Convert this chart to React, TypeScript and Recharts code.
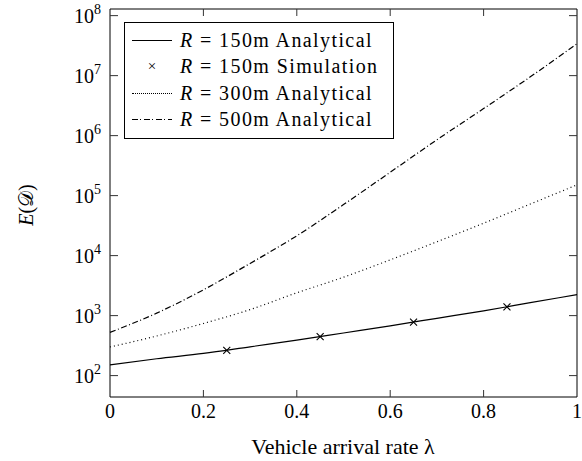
import { ComposedChart, Line, Scatter, XAxis, YAxis, Legend } from 'recharts';

// arrival rate on the x axis
const lambdaValues = [0, 0.1, 0.2, 0.3, 0.4, 0.5, 0.6, 0.7, 0.8, 0.9, 1.0];

// E(D) (log axis)
const r150Analytical = [151, 191, 234, 302, 389, 513, 676, 902, 1202, 1641, 2239];
const r300Analytical = [300, 457, 740, 1260, 2400, 4370, 8500, 17000, 34700, 72400, 151000];
const r500Analytical = [525, 1100, 2690, 7410, 21400, 70800, 245000, 851000, 2820000, 9550000, 33900000];

const simLambda = [0.25, 0.45, 0.65, 0.85];
const r150Simulation = [263, 447, 776, 1400];

const xTicks = [0, 0.2, 0.4, 0.6, 0.8, 1];
const yMajorTicks = [1e2, 1e3, 1e4, 1e5, 1e6, 1e7, 1e8];
const yDomain = [44, 1.29e8];

const legendLabels = ['150m Analytical', '150m Simulation', '300m Analytical', '500m Analytical'];

const chartData = lambdaValues.map((l, i) => ({
  lambda: l,
  r150: r150Analytical[i],
  r300: r300Analytical[i],
  r500: r500Analytical[i],
}));
const simData = simLambda.map((l, i) => ({ lambda: l, sim: r150Simulation[i] }));

// plot box size, used for the mirrored ticks and frame on top/right
const PLOT_W = 467;
const PLOT_H = 388;
const TICK_COLOR = '#333';
const FONT = 'Times New Roman';

const LeftTick = (props: any) => {
  const { x, y, payload } = props;
  const v = payload.value as number;
  return (
    <g>
      <path d={`M${x},${y}h8M${x + PLOT_W},${y}h-8`} stroke={TICK_COLOR} strokeWidth={1} fill="none" />
      <text x={x - 9} y={y + 7} textAnchor="end" fontFamily={FONT} fontSize={20} fill="#000">
        10<tspan dy={-9} fontSize={14}>{Math.round(Math.log10(v))}</tspan>
      </text>
    </g>
  );
};

const BottomTick = (props: any) => {
  const { x, y, payload } = props;
  const v = payload.value as number;
  const label = v === 0 ? '0' : v === 1 ? '1' : v.toFixed(1);
  return (
    <g>
      {v > 0 && v < 1 && (
        <path d={`M${x},${y}v-7M${x},${y - PLOT_H}v7`} stroke={TICK_COLOR} strokeWidth={1} fill="none" />
      )}
      {v === 0 && (
        <path d={`M${x},${y - PLOT_H}h${PLOT_W}v${PLOT_H}`} stroke="#000" strokeWidth={1} fill="none" />
      )}
      <text x={x} y={y + 21} textAnchor="middle" fontFamily={FONT} fontSize={20} fill="#000">
        {label}
      </text>
    </g>
  );
};

const Cross = ({ cx, cy }: any) => (
  <path
    d={`M${cx - 3.5},${cy - 3.5}L${cx + 3.5},${cy + 3.5}M${cx - 3.5},${cy + 3.5}L${cx + 3.5},${cy - 3.5}`}
    stroke="#000"
    strokeWidth={1.1}
    fill="none"
  />
);

const sampleStyles: any[] = [
  { borderTop: '1.2px solid #000' },
  null,
  { borderTop: '1.2px dotted #000' },
  {
    height: 1.2,
    background:
      'repeating-linear-gradient(to right, #000 0 6px, transparent 6px 8.5px, #000 8.5px 9.5px, transparent 9.5px 12px)',
  },
];

const LegendBox = () => (
  <div
    style={{
      width: 270,
      height: 117,
      border: '1px solid #000',
      background: '#fff',
      boxSizing: 'border-box',
      padding: '4px 0 0 0',
      fontFamily: FONT,
      fontSize: 20,
      color: '#000',
    }}
  >
    {legendLabels.map((t, i) => (
      <div key={t} style={{ display: 'flex', alignItems: 'center', height: 26.5 }}>
        <div style={{ width: 40, marginLeft: 7, marginRight: 8, display: 'flex', justifyContent: 'center' }}>
          {sampleStyles[i] ? (
            <div style={{ width: 40, ...sampleStyles[i] }} />
          ) : (
            <span style={{ fontSize: 15, lineHeight: '15px' }}>×</span>
          )}
        </div>
        <span style={{ letterSpacing: 1.4, whiteSpace: 'pre' }}>
          <i>R</i> = {t}
        </span>
      </div>
    ))}
  </div>
);

export default function App() {
  return (
    <div style={{ position: 'absolute', left: 0, top: 0, background: '#fff' }}>
      <ComposedChart width={582} height={461} data={chartData} margin={{ top: 9, right: 5, bottom: 0, left: 0 }}>
        <XAxis
          dataKey="lambda"
          type="number"
          domain={[0, 1]}
          ticks={xTicks}
          interval={0}
          height={64}
          tickSize={0}
          tickMargin={0}
          tickLine={false}
          axisLine={{ stroke: '#000', strokeWidth: 1 }}
          tick={<BottomTick />}
          label={{
            content: () => (
              <text x={343} y={454} textAnchor="middle" fontFamily={FONT} fontSize={22} fill="#000">
                Vehicle arrival rate λ
              </text>
            ),
          }}
        />
        <YAxis
          scale="log"
          type="number"
          domain={yDomain}
          allowDataOverflow
          ticks={yMajorTicks}
          interval={0}
          width={110}
          tickSize={0}
          tickMargin={0}
          tickLine={false}
          axisLine={{ stroke: '#000', strokeWidth: 1 }}
          tick={<LeftTick />}
          label={{
            content: () => (
              <text x={33} y={205} transform="rotate(-90 33 205)" textAnchor="middle" fontFamily={FONT} fontSize={20} fill="#000">
                <tspan fontStyle="italic">E</tspan>(𝒟)
              </text>
            ),
          }}
        />
        <Legend
          layout="horizontal"
          verticalAlign="middle"
          align="center"
          content={() => <LegendBox />}
          wrapperStyle={{ position: 'absolute', left: 124, top: 22, width: 270, height: 117 }}
        />
        <Line type="monotone" dataKey="r150" stroke="#000" strokeWidth={1.2} dot={false} isAnimationActive={false} />
        <Line type="monotone" dataKey="r300" stroke="#000" strokeWidth={1.2} strokeDasharray="1 3" dot={false} isAnimationActive={false} />
        <Line type="monotone" dataKey="r500" stroke="#000" strokeWidth={1.2} strokeDasharray="6 2.5 1 2.5" dot={false} isAnimationActive={false} />
        <Scatter data={simData} dataKey="sim" shape={<Cross />} isAnimationActive={false} />
      </ComposedChart>
    </div>
  );
}
